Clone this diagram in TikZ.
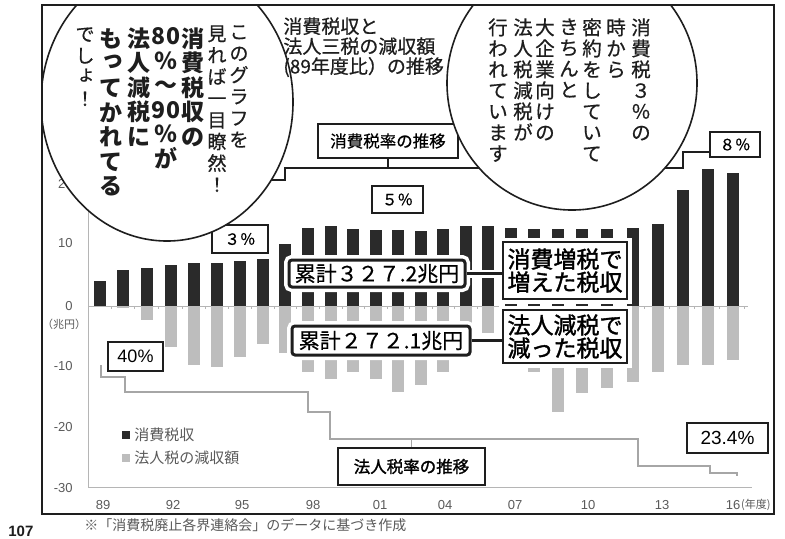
\documentclass[tikz,border=0pt]{standalone}
\usepackage{fontspec}
\setmainfont{Liberation Sans}
\newfontfamily\jp{Noto Sans CJK JP}
\newfontfamily\jpm[FakeBold=0.6]{Noto Sans CJK JP}
\newfontfamily\jpmb[FakeBold=1.5]{Noto Sans CJK JP}
\newfontfamily\lat{Liberation Sans}
\newcommand{\fs}[2]{\fontsize{#1}{#2}\selectfont}
\newcommand{\smk}[1]{\raisebox{0.2em}{\hspace{0.14em}#1}}
\definecolor{ink}{HTML}{1E1E1E}
\definecolor{barblack}{HTML}{2A2A2A}
\definecolor{bargray}{HTML}{BDBDBD}
\definecolor{rategray}{HTML}{A6A6A6}
\definecolor{axisgray}{HTML}{B5B5B5}
\definecolor{labgray}{HTML}{5A5A5A}
\begin{document}
\begin{tikzpicture}[x=0.5pt,y=-0.5pt,
  vcol/.style={anchor=north, align=center, inner sep=0pt, text=ink},
  halo/.style={preaction={draw=white, line width=#1}},
  thinbox/.style={draw=ink, line width=0.55pt, fill=white, inner sep=0pt},
  sumbox/.style={draw=ink, line width=1.5pt, rounded corners=1.5pt, fill=white, inner sep=0pt, halo=5pt, font=\jpm\fs{10.5}{10.5}},
  callbox/.style={draw=ink, line width=0.9pt, fill=white, inner sep=0pt, align=center, halo=4.5pt, font=\jpmb\fs{11.5}{11.5}},
  axis/.style={draw=axisgray, line width=0.45pt},
  ylab/.style={anchor=east, inner sep=0pt, text=labgray, font=\lat\fs{6.5}{6.5}},
  xlab/.style={inner sep=0pt, text=labgray, font=\lat\fs{6.5}{6.5}},
  bubble/.style={draw=ink, fill=white, line width=0.8pt},
  conn/.style={draw=ink, line width=0.6pt},
  thickconn/.style={draw=ink, line width=1.2pt, halo=4pt},
  crate/.style={draw=ink, line width=1.2pt},
  krate/.style={draw=rategray, line width=1.1pt},
]
\useasboundingbox (0,0) rectangle (785,538);
\fill[white] (0,0) rectangle (785,538);

% axes
\draw[axis] (88,120) -- (88,487) -- (752,487);
\draw[axis] (88,306) -- (748,306);

% y labels
\node[ylab] (y20) at (73,184) {20};
\node[ylab] (y10) at (73,243) {10};
\node[ylab] (y0) at (73,306) {0};
\node[ylab] (ym10) at (73,366) {-10};
\node[ylab] (ym20) at (73,427) {-20};
\node[ylab] (ym30) at (73,488) {-30};
\node[inner sep=0pt, text=labgray, font=\jp\fs{5.5}{5.5}] (unit) at (64,324) {（兆円）};

% x labels
\foreach \xx/\t/\n in {103/89/a,173/92/b,242/95/c,313/98/d,380/01/e,445/04/f,515/07/g,588/10/h,662/13/i}
  \node[xlab] (x\n) at (\xx,505) {\t};
\node[xlab] (xj) at (733,505) {16};
\node[anchor=west, inner sep=0pt, text=labgray, font=\jp\fs{5.5}{5.5}] (nendo) at (xj.east) {(年度)};

% bars
\foreach \x/\h/\g in {100/25/0, 123/36/1.5, 147/38/14, 171/41/41, 194/43/59, 217/43/61, 240/45/51, 263/47/38, 285/62/47, 307.5/78/66, 331/80/73, 352.5/77/66, 376/76/73, 398/76/86, 421/75/79, 442.5/77/66, 465.5/80/45, 488/80/27, 511/78/45, 534/77/66, 558/77/106, 582/77/87, 607/77/82, 633/78/76, 658/82/66, 683/116/59, 708/137/59, 733/133/54}{
  \fill[barblack] (\x-6,306) rectangle (\x+6,306-\h);
  \fill[bargray] (\x-6,306) rectangle (\x+6,306+\g);
  \draw[axis] (\x+11.5,306) -- ++(0,3);
}

% legend
\fill[barblack] (122,431) rectangle (130,439);
\node[anchor=west, inner sep=0pt, text=labgray, font=\jp\fs{7.5}{7.5}] (leg1) at (134,435) {消費税収};
\fill[bargray] (122,454) rectangle (130,462);
\node[anchor=west, inner sep=0pt, text=labgray, font=\jp\fs{7.5}{7.5}] (leg2) at (134,458) {法人税の減収額};

% boxes
\node[thinbox, minimum width=70pt, minimum height=17pt, font=\jpm\fs{8.25}{8.25}] (rateC) at (388,141) {消費税率の推移};
\node[thinbox, minimum width=25.5pt, minimum height=13.5pt, font=\jpm\fs{7.75}{7.75}] (p5) at (397.5,199.5) {５％};
\node[thinbox, minimum width=28pt, minimum height=14pt, font=\jpm\fs{7.75}{7.75}] (p3) at (240,239) {３％};
\node[thinbox, minimum width=25pt, minimum height=12.5pt, font=\jpm\fs{7.75}{7.75}] (p8) at (735,144.5) {８％};
\node[thinbox, minimum width=27.5pt, minimum height=14.5pt, font=\lat\fs{9}{9}] (p40) at (135.5,356.5) {40\%};
\node[thinbox, minimum width=40.5pt, minimum height=15pt, font=\lat\fs{9.5}{9.5}] (p234) at (727.5,438) {23.4\%};
\node[thinbox, line width=0.7pt, minimum width=73.5pt, minimum height=18.5pt, font=\jpmb\fs{8.25}{8.25}] (rateK) at (411.5,466.5) {法人税率の推移};

% rate lines
\coordinate (c8) at (683,152);
\draw[crate] (100,180) -- (285,180) -- (285,168) -- (683,168) -- (c8) -- (c8 -| p8.west);
\coordinate (cA) at (388,168);
\draw[conn] (rateC.south) -- (cA);
\draw[krate] (101,365) -- (101,377) -- (125,377) -- (125,392) -- (308,392) -- (308,412) -- (330,412) -- (330,439) -- (638,439) -- (638,466) -- (710,466) -- (710,473) -- (737,473) -- (737,476);
\coordinate (kA) at (411.5,439);
\draw[draw=rategray, line width=0.8pt] (rateK.north) -- (kA);

% callouts
\node[sumbox, minimum width=88pt, minimum height=13.5pt] (sum1) at (377,273.5) {累計３２７.2兆円};
\node[sumbox, minimum width=89pt, minimum height=14.5pt] (sum2) at (381,340.5) {累計２７２.1兆円};
\node[callbox, minimum width=62pt, minimum height=28.5pt] (inc) at (565,270.5) {消費増税で\\増えた税収};
\node[callbox, minimum width=62pt, minimum height=26.5pt] (dec) at (565,336.5) {法人減税で\\減った税収};
\draw[thickconn] (sum1.east) -- (sum1.east -| inc.west);
\draw[thickconn] (sum2.east) -- (sum2.east -| dec.west);

% bubbles
\begin{scope}
\clip (42,5) rectangle (774,514);
\draw[bubble] (167,102) ellipse [x radius=63pt, y radius=69.5pt];
\draw[bubble] (572,83) ellipse [x radius=62.5pt, y radius=63.5pt];
\end{scope}

% left bubble text
\node[vcol, font=\jpm\fs{9.5}{10.8}] (L1) at (239,25) {こ\\の\\グ\\ラ\\フ\\を};
\node[vcol, font=\jpm\fs{9.5}{10.8}] (L2) at (217,25) {見\\れ\\ば\\一\\目\\瞭\\然\\！};
\node[vcol, font=\jp\bfseries\fs{11.5}{12.3}] (L3) at (193,27) {消\\費\\税\\収\\の};
\node[vcol, font=\jp\bfseries\fs{11.5}{12.3}] (L4) at (166,27) {80\\％\\～\\90\\％\\が};
\node[vcol, font=\jp\bfseries\fs{11.5}{12.3}] (L5) at (139,27) {法\\人\\減\\税\\に};
\node[vcol, font=\jp\bfseries\fs{11.5}{12.3}] (L6) at (111,28) {も\\\smk{っ}\\て\\か\\れ\\て\\る};
\node[vcol, font=\jpm\fs{9.5}{10.8}] (L7) at (85,27) {で\\し\\\smk{ょ}\\！};

% right bubble text
\node[vcol, font=\jpm\fs{9.75}{10.5}] (R1) at (641,18) {消\\費\\税\\３\\％\\の};
\node[vcol, font=\jpm\fs{9.75}{10.5}] (R2) at (616,18) {時\\か\\ら};
\node[vcol, font=\jpm\fs{9.75}{10.5}] (R3) at (592,18) {密\\約\\を\\し\\て\\い\\て};
\node[vcol, font=\jpm\fs{9.75}{10.5}] (R4) at (569,18) {き\\ち\\ん\\と};
\node[vcol, font=\jpm\fs{9.75}{10.5}] (R5) at (545,18) {大\\企\\業\\向\\け\\の};
\node[vcol, font=\jpm\fs{9.75}{10.5}] (R6) at (523,18) {法\\人\\税\\減\\税\\が};
\node[vcol, font=\jpm\fs{9.75}{10.5}] (R7) at (498,18) {行\\わ\\れ\\て\\い\\ま\\す};

% title
\node[anchor=north west, align=left, inner sep=0pt, text=ink, font=\jpm\fs{9.5}{10}] (title) at (283,17) {消費税収と\\法人三税の減収額\\(89年度比）の推移};

% frame
\draw[draw=ink, line width=1.1pt] (42,5) rectangle (774,514);

% footer
\node[anchor=west, inner sep=0pt, text=ink, font=\lat\bfseries\fs{7.5}{7.5}] (page) at (8,531) {107};
\node[anchor=west, inner sep=0pt, text=labgray, font=\jp\fs{7}{7}] (note) at (84,525) {※「消費税廃止各界連絡会」のデータに基づき作成};
\end{tikzpicture}
\end{document}
